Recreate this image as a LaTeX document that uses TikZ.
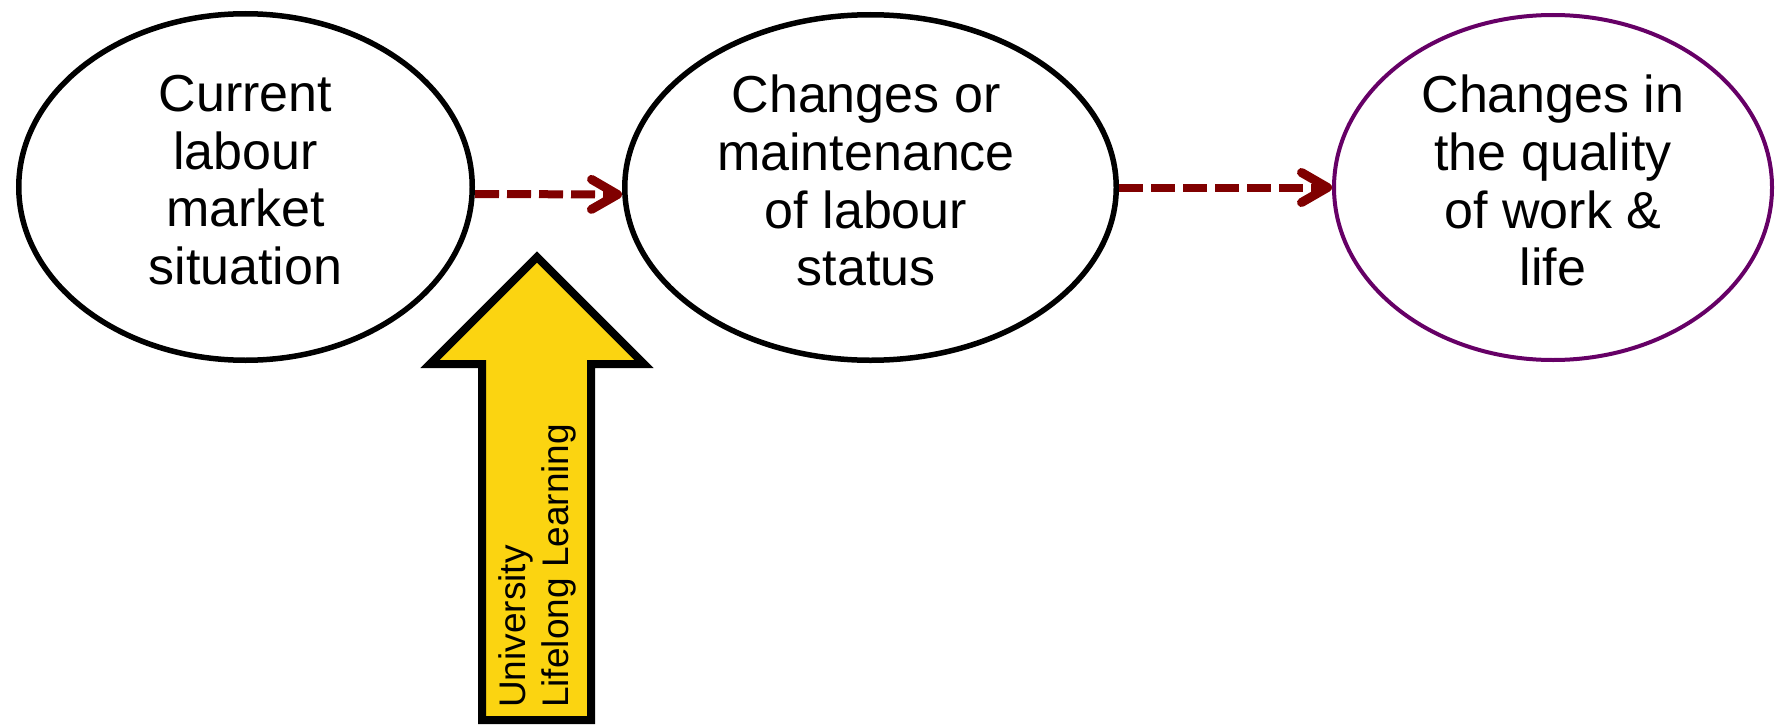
\documentclass[tikz,border=0pt]{standalone}
\usepackage{fontspec}
\setmainfont{Liberation Sans}
\usetikzlibrary{arrows.meta,shapes.geometric}
\definecolor{darkred}{RGB}{128,0,0}
\definecolor{plum}{RGB}{102,0,102}
\definecolor{ulyellow}{RGB}{251,212,17}
\tikzset{
  oval/.style={ellipse, draw=black, line width=5.5pt, fill=white, inner sep=0pt},
  ovaltext/.style={anchor=north, align=center, inner sep=0pt, font=\fontsize{52}{57.7}\selectfont},
  flow/.style={draw=darkred, line width=8pt, dash pattern=on 24pt off 8pt,
    -{Straight Barb[length=26pt,width=30pt,line width=9pt,line cap=round,line join=round]}},
  bigarrow/.style={draw=black, fill=ulyellow, line width=8pt, line join=miter},
  arrowtext/.style={rotate=90, anchor=north west, align=left, inner sep=0pt, font=\fontsize{37}{43}\selectfont}
}
\begin{document}
\begin{tikzpicture}[x=1pt,y=-1pt]
\useasboundingbox (0,0) rectangle (1776,725);
% ellipses
\node[oval, minimum width=453.5pt, minimum height=346.5pt] (e1) at (245.5,187) {};
\node[oval, minimum width=491.5pt, minimum height=345.5pt] (e2) at (870.5,187.5) {};
\node[oval, draw=plum, line width=4pt, minimum width=438pt, minimum height=345pt] (e3) at (1553,187.5) {};
% texts
\node[ovaltext] (t1) at (245.5,75) {Current\\labour\\market\\situation};
\node[ovaltext] (t2) at (866,75) {Changes or\\maintenance\\of labour\\status};
\node[ovaltext] (t3) at (1553,75) {Changes in\\the quality\\of work \&\\life};
% connectors
\draw[flow] ([yshift=-7pt]e1.east) -- ([yshift=-7pt]e2.west);
\draw[flow] (e2.east) -- (e3.west);
% yellow arrow
\draw[bigarrow] (482,720) -- (482,364) -- (430,364) -- (537,257) -- (644,364) -- (591,364) -- (591,720) -- cycle;
\node[arrowtext] (ull) at (498,708) {University\\Lifelong Learning};
\end{tikzpicture}
\end{document}
